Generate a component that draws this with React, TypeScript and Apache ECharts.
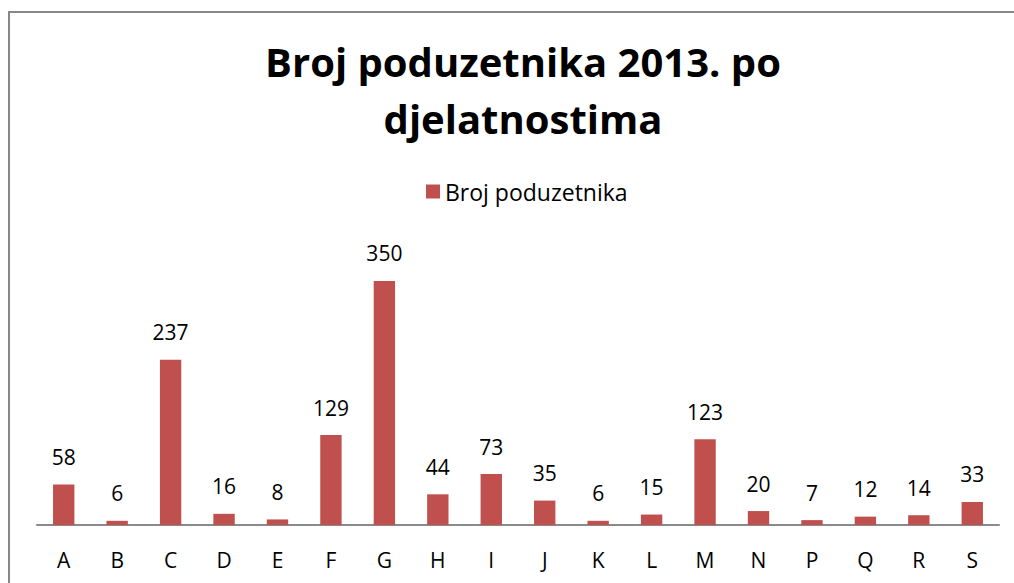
import React, { useEffect, useRef } from "react";
import * as echarts from "echarts";

const categories = ["A", "B", "C", "D", "E", "F", "G", "H", "I", "J", "K", "L", "M", "N", "P", "Q", "R", "S"];
const values = [58, 6, 237, 16, 8, 129, 350, 44, 73, 35, 6, 15, 123, 20, 7, 12, 14, 33];
const seriesName = "Broj poduzetnika";
const titleText = "Broj poduzetnika 2013. po\ndjelatnostima";

export default function App() {
  const ref = useRef<HTMLDivElement>(null);
  useEffect(() => {
    if (!ref.current) return;
    const chart = echarts.init(ref.current, undefined, { renderer: "svg" });
    const font = "'Open Sans', 'Noto Sans', sans-serif";
    chart.setOption({
      animation: false,
      backgroundColor: "#ffffff",
      title: {
        text: titleText,
        left: 518,
        top: 28,
        textAlign: "center",
        textStyle: { fontFamily: font, fontWeight: "bold", fontSize: 40, lineHeight: 57, color: "#000" },
      },
      legend: {
        data: [seriesName],
        left: 421,
        top: 175,
        itemWidth: 14,
        itemHeight: 14,
        icon: "rect",
        textStyle: { fontFamily: font, fontSize: 23, color: "#000" },
      },
      graphic: [
        {
          type: "line",
          shape: { x1: 9, y1: 12, x2: 1014, y2: 12 },
          style: { stroke: "#888888", lineWidth: 2 },
          silent: true,
        },
        {
          type: "line",
          shape: { x1: 9, y1: 11, x2: 9, y2: 583 },
          style: { stroke: "#888888", lineWidth: 2 },
          silent: true,
        },
      ],
      grid: { left: 37, right: 15, top: 246, bottom: 58 },
      xAxis: {
        type: "category",
        data: categories,
        axisLine: { lineStyle: { color: "#8a8a8a", width: 2 } },
        axisTick: { show: false },
        axisLabel: { fontFamily: font, fontSize: 21, color: "#000", margin: 24 },
      },
      yAxis: {
        type: "value",
        min: 0,
        max: 400,
        show: false,
        splitLine: { show: false },
      },
      series: [
        {
          name: seriesName,
          type: "bar",
          data: values,
          barWidth: "40%",
          itemStyle: { color: "#C0504D" },
          label: {
            show: true,
            position: "top",
            distance: 17,
            fontFamily: font,
            fontSize: 21,
            color: "#000",
          },
        },
      ],
    });
    return () => chart.dispose();
  }, []);
  return <div ref={ref} style={{ position: "absolute", left: 0, top: 0, width: 1014, height: 583 }} />;
}
